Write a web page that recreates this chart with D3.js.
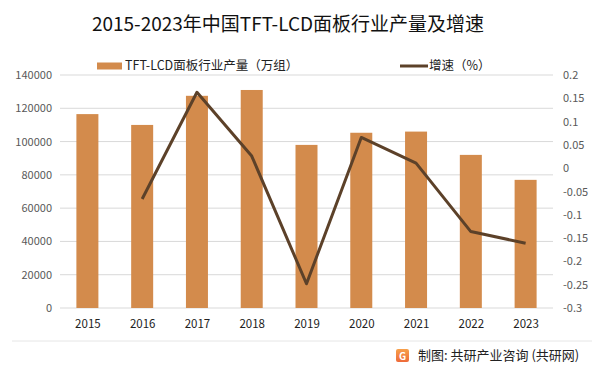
<!DOCTYPE html>
<html>
<head>
<meta charset="utf-8">
<script src="https://cdn.jsdelivr.net/npm/d3@7"></script>
<style>
  body { margin: 0; background: #fff; }
  svg text { font-family: "Microsoft YaHei", "Noto Sans CJK SC", sans-serif; }
</style>
</head>
<body>
<div id="chart"></div>
<script>
// chart data
const years = ["2015", "2016", "2017", "2018", "2019", "2020", "2021", "2022", "2023"];
const output = [116500, 110000, 127500, 131000, 98000, 105300, 106000, 92000, 77000];
const growth = [null, -0.066, 0.163, 0.026, -0.248, 0.066, 0.011, -0.136, -0.161];
const leftTicks = [0, 20000, 40000, 60000, 80000, 100000, 120000, 140000];
const rightTicks = [-0.3, -0.25, -0.2, -0.15, -0.1, -0.05, 0, 0.05, 0.1, 0.15, 0.2];

const W = 603, H = 373;
const margin = {top: 75, right: 50, bottom: 65, left: 60},
    width = W - margin.left - margin.right,
    height = H - margin.top - margin.bottom;

const barColor = "#d38b4c", lineColor = "#5c4129";

const root = d3.select("#chart").append("svg")
    .attr("width", W)
    .attr("height", H);

// title
root.append("text")
    .attr("x", 288).attr("y", 31)
    .attr("text-anchor", "middle")
    .style("font-size", "19px")
    .style("fill", "#111")
    .text("2015-2023年中国TFT-LCD面板行业产量及增速");

// legend
root.append("rect").attr("x", 97).attr("y", 62.5).attr("width", 25).attr("height", 7).style("fill", barColor);
root.append("text").attr("x", 125).attr("y", 66.5).attr("dominant-baseline", "middle")
    .style("font-size", "12.5px").style("fill", "#222").text("TFT-LCD面板行业产量（万组）");
root.append("line").attr("x1", 400).attr("x2", 428).attr("y1", 66).attr("y2", 66)
    .attr("stroke", lineColor).attr("stroke-width", 3);
root.append("text").attr("x", 429).attr("y", 66.5).attr("dominant-baseline", "middle")
    .style("font-size", "12.5px").style("fill", "#222").text("增速（%）");

const svg = root.append("g")
    .attr("transform", "translate(" + margin.left + "," + margin.top + ")");

const x = d3.scaleBand().domain(years).range([0, width]).paddingInner(0.6).paddingOuter(0.3);
const y = d3.scaleLinear().domain([0, 140000]).range([height, 0]);
const y2 = d3.scaleLinear().domain([-0.3, 0.2]).range([height, 0]);

// gridlines
svg.append("g")
    .selectAll("line")
    .data(leftTicks)
    .join("line")
    .attr("x1", 0).attr("x2", width)
    .attr("y1", d => y(d)).attr("y2", d => y(d))
    .attr("stroke", "#d9d9d9").attr("stroke-width", 1);

// left axis
const yAxis = svg.append("g")
    .call(d3.axisLeft(y).tickValues(leftTicks).tickSize(0).tickPadding(8).tickFormat(d3.format("d")));
yAxis.select(".domain").remove();
yAxis.selectAll("text").style("font-size", "11px").style("fill", "#595959");

// right axis
const y2Axis = svg.append("g")
    .attr("transform", `translate(${width}, 0)`)
    .call(d3.axisRight(y2).tickValues(rightTicks).tickSize(0).tickPadding(10).tickFormat(d => String(+d.toFixed(2))));
y2Axis.select(".domain").remove();
y2Axis.selectAll("text").style("font-size", "11px").style("fill", "#595959");

// bottom axis
const xAxis = svg.append("g")
    .attr("transform", `translate(0, ${height})`)
    .call(d3.axisBottom(d3.scalePoint().domain(years).range([x.step() / 2, width - x.step() / 2])).tickSize(0).tickPadding(12));
xAxis.select(".domain").remove();
xAxis.selectAll("text").style("font-size", "11.5px").style("fill", "#222");

// bars
svg.append("g")
    .selectAll("rect")
    .data(years)
    .join("rect")
    .attr("x", (d) => x(d) + x.bandwidth() / 2 - 11)
    .attr("width", 22)
    .attr("y", (d, i) => y(output[i]))
    .attr("height", (d, i) => height - y(output[i]))
    .style("fill", barColor);

// growth line
const pts = years.map((d, i) => ({year: d, v: growth[i]})).filter(p => p.v !== null);
const line = d3.line()
    .x(p => x(p.year) + x.bandwidth() / 2)
    .y(p => y2(p.v));
svg.append("path")
    .datum(pts)
    .attr("d", line)
    .attr("fill", "none")
    .attr("stroke", lineColor)
    .attr("stroke-width", 3)
    .attr("stroke-linejoin", "round");

// footer
root.append("line").attr("x1", 12).attr("x2", 592).attr("y1", 341).attr("y2", 341)
    .attr("stroke", "#e6e6e6").attr("stroke-width", 1);
const grad = root.append("defs").append("linearGradient").attr("id", "lg")
    .attr("x1", 0).attr("y1", 0).attr("x2", 0).attr("y2", 1);
grad.append("stop").attr("offset", "0%").attr("stop-color", "#f7a04a");
grad.append("stop").attr("offset", "100%").attr("stop-color", "#ee6a3a");
root.append("rect").attr("x", 396).attr("y", 349).attr("width", 13).attr("height", 13).attr("rx", 2).style("fill", "url(#lg)");
root.append("text").attr("x", 402.5).attr("y", 359.5).attr("text-anchor", "middle")
    .style("font-size", "10px").style("font-weight", "bold").style("fill", "#fff").text("G");
root.append("text").attr("x", 418).attr("y", 356).attr("dominant-baseline", "middle")
    .style("font-size", "13px").style("fill", "#222").text("制图: 共研产业咨询 (共研网)");
</script>
</body>
</html>
